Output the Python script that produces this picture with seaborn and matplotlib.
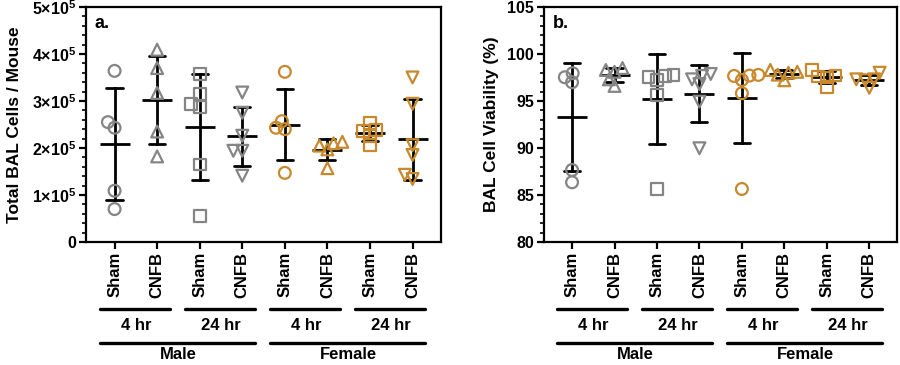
import pandas as pd
import seaborn as sns
import matplotlib.pyplot as plt
from matplotlib.ticker import AutoMinorLocator

# categories
groups = ["M 4hr Sham", "M 4hr CNFB", "M 24hr Sham", "M 24hr CNFB",
          "F 4hr Sham", "F 4hr CNFB", "F 24hr Sham", "F 24hr CNFB"]
sexes = ["Male"] * 4 + ["Female"] * 4
group_markers = ["o", "^", "s", "v"] * 2
tick_labels = ["Sham", "CNFB"] * 4
time_labels = ["4 hr", "24 hr", "4 hr", "24 hr"]
sex_labels = ["Male", "Female"]

# panel a: total BAL cells per mouse (x 1e5)
cells_m_4_sham = [3.64, 2.43, 2.55, 1.09, 0.70]
cells_m_4_cnfb = [4.09, 3.70, 3.17, 2.35, 1.82]
cells_m_24_sham = [3.57, 3.14, 2.87, 2.93, 1.65, 0.55]
cells_m_24_cnfb = [3.18, 2.75, 2.26, 1.94, 1.94, 1.41]
cells_f_4_sham = [3.62, 2.57, 2.40, 2.43, 1.47]
cells_f_4_cnfb = [1.57, 1.97, 2.10, 2.13, 2.05]
cells_f_24_sham = [2.53, 2.36, 2.38, 2.06, 2.25]
cells_f_24_cnfb = [3.50, 2.94, 2.06, 1.85, 1.34, 1.43]

# panel b: BAL cell viability (%)
via_m_4_sham = [96.99, 97.95, 97.52, 87.66, 86.35]
via_m_4_cnfb = [98.1, 96.6, 98.5, 97.3, 98.3]
via_m_24_sham = [97.23, 97.66, 97.52, 95.64, 85.6, 97.8]
via_m_24_cnfb = [97.3, 97.87, 97.66, 94.93, 89.97, 96.8]
via_f_4_sham = [97.23, 97.77, 97.66, 95.82, 85.64, 97.7]
via_f_4_cnfb = [98.3, 97.2, 98.1, 98.0, 97.8]
via_f_24_sham = [98.3, 96.5, 97.6, 97.7, 97.5]
via_f_24_cnfb = [98.0, 96.4, 97.3, 97.2, 97.3]

cells = [cells_m_4_sham, cells_m_4_cnfb, cells_m_24_sham, cells_m_24_cnfb,
         cells_f_4_sham, cells_f_4_cnfb, cells_f_24_sham, cells_f_24_cnfb]
viability = [via_m_4_sham, via_m_4_cnfb, via_m_24_sham, via_m_24_cnfb,
             via_f_4_sham, via_f_4_cnfb, via_f_24_sham, via_f_24_cnfb]

cell_ticks = [0, 1, 2, 3, 4, 5]
cell_ticklabels = ["0"] + [f"{t}×10$^{{\\mathbf{{5}}}}$" for t in cell_ticks[1:]]
via_ticks = [80, 85, 90, 95, 100, 105]

palette = {"Male": "#858585", "Female": "#C8882C"}

sns.set_style("ticks")
plt.rcParams["font.family"] = ["Liberation Sans", "DejaVu Sans"]
plt.rcParams["font.weight"] = "bold"
plt.rcParams["mathtext.fontset"] = "custom"
plt.rcParams["mathtext.bf"] = "Liberation Sans:bold"
plt.rcParams["mathtext.rm"] = "Liberation Sans:bold"
for key in ["text.color", "axes.labelcolor", "axes.edgecolor", "xtick.color", "ytick.color"]:
    plt.rcParams[key] = "black"

SWARM_SIZE = 4.5   # size used to lay out the swarm (points overlap a bit, like prism)
MARKER_SIZE = 8.5  # size the markers are actually drawn at


def make_df(values):
    rows = []
    for g, s, vals in zip(groups, sexes, values):
        for v in vals:
            rows.append({"group": g, "sex": s, "value": v})
    return pd.DataFrame(rows)


def draw_panel(ax, values, ylim, ticks, ticklabels, ylabel, ylabel_x, tag):
    df = make_df(values)
    for m in ["o", "^", "s", "v"]:
        keep = [g for g, mk in zip(groups, group_markers) if mk == m]
        sub = df[df.group.isin(keep)]
        sns.swarmplot(data=sub, x="group", y="value", hue="sex", order=groups,
                      hue_order=["Male", "Female"], palette=palette, marker=m,
                      size=SWARM_SIZE, ax=ax, legend=False)
    for c in ax.collections:
        c.set_edgecolors(c.get_facecolors())
        c.set_facecolors("none")
        c.set_linewidths(1.6)
    sns.pointplot(data=df, x="group", y="value", order=groups, errorbar="sd",
                  capsize=0.38, color="black", markers="_", linestyles="none",
                  markersize=22, markeredgewidth=2, err_kws={"linewidth": 2},
                  ax=ax)

    ax.set_xlim(-0.67, 7.66)
    ax.set_ylim(*ylim)
    ax.set_yticks(ticks)
    ax.set_yticklabels(ticklabels, fontsize=11.5, fontweight="bold")
    ax.yaxis.set_minor_locator(AutoMinorLocator(5))
    ax.set_xticks(range(len(groups)))
    ax.set_xticklabels(tick_labels, rotation=90, fontsize=12, fontweight="bold")
    ax.set_xlabel("")
    ax.set_ylabel(ylabel, fontsize=12.5, fontweight="bold")
    ax.yaxis.set_label_coords(ylabel_x, 0.5)
    ax.tick_params(axis="both", which="major", length=5, width=1.6, pad=2)
    ax.tick_params(axis="y", which="minor", length=3, width=1.2)
    for sp in ax.spines.values():
        sp.set_linewidth(1.6)
    ax.text(0.025, 0.965, tag, transform=ax.transAxes, ha="left", va="top",
            fontsize=13, fontweight="bold")

    tr = ax.get_xaxis_transform()
    for i, lab in enumerate(time_labels):
        x0 = 2 * i
        ax.plot([x0 - 0.35, x0 + 1.3], [-0.285, -0.285], color="black", lw=2.4,
                transform=tr, clip_on=False)
        ax.text(x0 + 0.5, -0.355, lab, transform=tr, ha="center", va="center",
                fontsize=12, fontweight="bold")
    for i, lab in enumerate(sex_labels):
        x0 = 4 * i
        ax.plot([x0 - 0.35, x0 + 3.3], [-0.43, -0.43], color="black", lw=2.4,
                transform=tr, clip_on=False)
        ax.text(x0 + 1.5, -0.478, lab, transform=tr, ha="center", va="center",
                fontsize=12, fontweight="bold")


fig = plt.figure(figsize=(9, 3.65), dpi=100)
ax1 = fig.add_axes([0.0956, 0.337, 0.394, 0.644])
ax2 = fig.add_axes([0.604, 0.337, 0.393, 0.644])

draw_panel(ax1, cells, (0, 5), cell_ticks, cell_ticklabels,
           "Total BAL Cells / Mouse", -0.18, "a.")
draw_panel(ax2, viability, (80, 105), via_ticks, [str(t) for t in via_ticks],
           "BAL Cell Viability (%)", -0.125, "b.")

# lay out the swarms once, then freeze the positions and enlarge the markers
fig.canvas.draw()
for ax in (ax1, ax2):
    for c in ax.collections:
        if "draw" in vars(c):
            del c.draw
        c.set_sizes([MARKER_SIZE ** 2])

fig.savefig("out.png", dpi=100)
